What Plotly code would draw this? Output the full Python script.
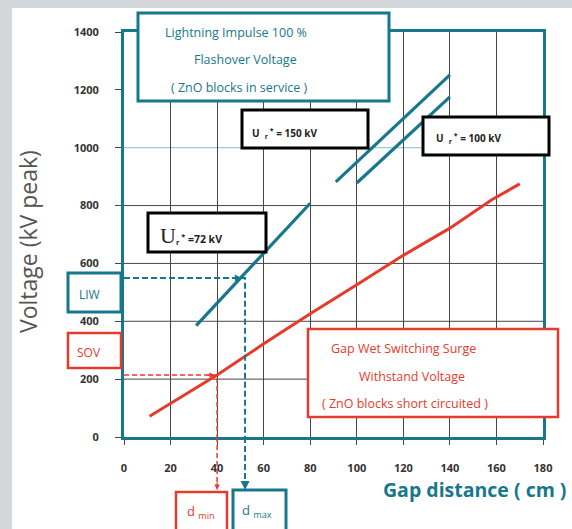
import plotly.graph_objects as go

# ---------------- data ----------------
gap_ticks = [0, 20, 40, 60, 80, 100, 120, 140, 160, 180]
volt_ticks = [0, 200, 400, 600, 800, 1000, 1200, 1400]
grid_dark_y = [200, 400, 600, 800]
grid_light_y = [1000]

sov_x = [11, 40, 60, 80, 100, 120, 140, 158, 170]
sov_y = [72, 214, 322, 426, 526, 628, 722, 820, 875]

ur72_x = [31, 80]
ur72_y = [385, 808]
ur150_x = [91, 140]
ur150_y = [882, 1252]
ur100_x = [100, 140]
ur100_y = [878, 1176]

liw_level = 550
d_max = 52
sov_level = 214
d_min = 40

TEAL = "#17778c"
RED = "#e63a2c"
GRID = "#4a4545"
LIGHT = "#7cc0da"
FONT = "Open Sans"

# pixel -> paper helpers for decorations (layout only)
L, R, T, B = 124, 543, 32, 437
def PX(x):
    return (x - L) / (R - L)
def PY(y):
    return (B - y) / (B - T)

fig = go.Figure()

# data lines
fig.add_trace(go.Scatter(x=sov_x, y=sov_y, mode="lines",
                         line=dict(color=RED, width=3), showlegend=False))
for xs, ys in [(ur72_x, ur72_y), (ur150_x, ur150_y), (ur100_x, ur100_y)]:
    fig.add_trace(go.Scatter(x=xs, y=ys, mode="lines",
                             line=dict(color=TEAL, width=3.2), showlegend=False))

# dashed guides (inside plot)
fig.add_trace(go.Scatter(x=[0, d_max, d_max], y=[liw_level, liw_level, 0], mode="lines",
                         line=dict(color=TEAL, width=2, dash="6px,3px"), showlegend=False))
fig.add_trace(go.Scatter(x=[0, d_min, d_min], y=[sov_level, sov_level, 0], mode="lines",
                         line=dict(color=RED, width=1.5, dash="5px,3px"), showlegend=False))

shapes = []
# white panel
shapes.append(dict(type="rect", xref="paper", yref="paper", x0=PX(12), x1=PX(572),
                   y0=PY(529), y1=PY(8), fillcolor="white", line=dict(width=0), layer="below"))
# horizontal grid
for g in grid_dark_y:
    shapes.append(dict(type="line", xref="paper", yref="y", x0=0, x1=1, y0=g, y1=g,
                       line=dict(color=GRID, width=1), layer="below"))
for g in grid_light_y:
    shapes.append(dict(type="line", xref="paper", yref="y", x0=0, x1=1, y0=g, y1=g,
                       line=dict(color=LIGHT, width=1), layer="below"))
# dashed extensions below axis
shapes.append(dict(type="line", xref="x", yref="paper", x0=d_max, x1=d_max, y0=0, y1=PY(486),
                   line=dict(color=TEAL, width=2, dash="6px,3px"), layer="above"))
shapes.append(dict(type="line", xref="x", yref="paper", x0=d_min, x1=d_min, y0=0, y1=PY(486),
                   line=dict(color=RED, width=1.5, dash="5px,3px"), layer="above"))

def box(x0, y0, x1, y1, color, w):
    shapes.append(dict(type="rect", xref="paper", yref="paper", x0=PX(x0), x1=PX(x1),
                       y0=PY(y1), y1=PY(y0), fillcolor="white",
                       line=dict(color=color, width=w), layer="above"))

box(138, 13, 389, 101, TEAL, 3)      # lightning
box(242, 110, 368, 148, "black", 3)  # Ur 150
box(423, 117, 549, 155, "black", 3)  # Ur 100
box(148, 213, 266, 252, "black", 3)  # Ur 72
box(68, 273, 121, 312, TEAL, 3)      # LIW
box(68, 333, 121, 368, RED, 2.5)     # SOV
box(176, 492, 227, 531, RED, 2.5)    # dmin
box(233, 490, 286, 531, TEAL, 3)     # dmax
box(308, 329, 558, 417, RED, 2.5)    # gap wet

ann = []
def txt(x, y, s, color, size, bold=False, family=FONT, angle=0, xanchor="center"):
    ann.append(dict(xref="paper", yref="paper", x=PX(x), y=PY(y), text=s, showarrow=False,
                    xanchor=xanchor, yanchor="middle", textangle=angle,
                    font=dict(color=color, size=size, family=family,
                              weight="bold" if bold else "normal")))

txt(236, 32, "Lightning Impulse 100 %", TEAL, 12.5)
txt(245, 60, "Flashover Voltage", TEAL, 12.5)
txt(239, 87, "( ZnO blocks in service )", TEAL, 12.5)

txt(250, 133, "U  <sub>r</sub><sup> *</sup> = 150 kV", "#222", 10, True, xanchor="left")
txt(434, 138, "U  <sub>r</sub><sup> *</sup> = 100 kV", "#222", 10, True, xanchor="left")
txt(158, 235, "<span style='font-family:Liberation Serif;font-size:22px;font-weight:normal'>U</span><sub>r</sub><sup> *</sup> =72 kV",
    "#222", 10.5, True, xanchor="left")

txt(89, 294, "LIW", TEAL, 12)
txt(89, 352, "SOV", RED, 12)
txt(201, 512, "d <sub>min</sub>", RED, 13)
txt(257, 511, "d <sub>max</sub>", TEAL, 13)

txt(403, 348, "Gap Wet Switching Surge", RED, 12.5)
txt(412, 376, "Withstand Voltage", RED, 12.5)
txt(405, 403, "( ZnO blocks short circuited )", RED, 12.5)

txt(28, 242, "Voltage (kV peak)", "#555", 23, angle=-90)
txt(474, 489, "Gap distance ( cm )", TEAL, 19.5, True)

# arrowheads
ann.append(dict(xref="x", yref="y", x=d_max - 1.5, y=liw_level, ax=-9, ay=0, showarrow=True,
                arrowhead=2, arrowsize=0.9, arrowwidth=1.5, arrowcolor=TEAL, text=""))
ann.append(dict(xref="x", yref="y", x=d_min - 1, y=sov_level, ax=-9, ay=0, showarrow=True,
                arrowhead=2, arrowsize=0.9, arrowwidth=1.2, arrowcolor=RED, text=""))
ann.append(dict(xref="x", yref="paper", x=d_max, y=PY(490), ax=0, ay=-9, showarrow=True,
                arrowhead=2, arrowsize=0.9, arrowwidth=2, arrowcolor=TEAL, text=""))
ann.append(dict(xref="x", yref="paper", x=d_min, y=PY(490), ax=0, ay=-9, showarrow=True,
                arrowhead=2, arrowsize=0.9, arrowwidth=1.2, arrowcolor=RED, text=""))

fig.update_layout(
    width=572, height=529,
    margin=dict(l=L, r=572 - R, t=T, b=529 - B),
    paper_bgcolor="#d3d7da",
    plot_bgcolor="rgba(0,0,0,0)",
    shapes=shapes,
    annotations=ann,
    showlegend=False,
    xaxis=dict(range=[0, 180], tickvals=gap_ticks, ticktext=[str(v) for v in gap_ticks],
               showgrid=True, gridcolor=GRID, gridwidth=1, zeroline=False,
               showline=True, mirror=True, linecolor=TEAL, linewidth=3,
               ticks="outside", ticklen=5, tickcolor=GRID, tickwidth=1,
               ticklabelstandoff=14,
               tickfont=dict(family=FONT, size=11, color="#333", weight="bold")),
    yaxis=dict(range=[0, 1400], tickvals=volt_ticks, ticktext=[str(v) for v in volt_ticks],
               showgrid=False, zeroline=False,
               showline=True, mirror=True, linecolor=TEAL, linewidth=3,
               ticks="outside", ticklen=6, tickcolor=GRID, tickwidth=1,
               ticklabelstandoff=14,
               tickfont=dict(family=FONT, size=11, color="#333", weight="bold")),
)

fig.write_html("out.html", config={"displayModeBar": False},
               post_script="document.body.style.margin='0';document.body.style.overflow='hidden';")
